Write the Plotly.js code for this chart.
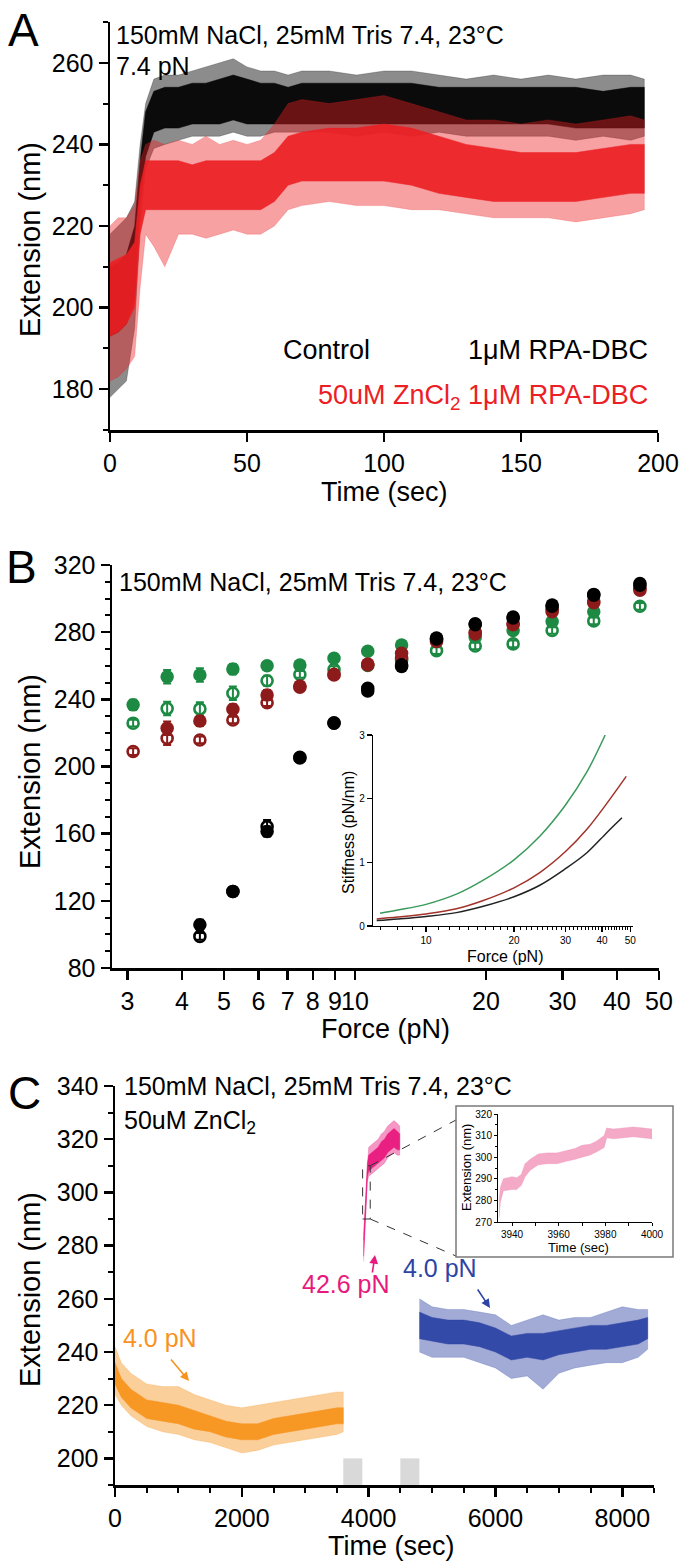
<!DOCTYPE html>
<html>
<head>
<meta charset="utf-8">
<script src="https://cdn.plot.ly/plotly-3.0.1.min.js"></script>
<style>html,body{margin:0;padding:0;background:#fff;}#chart{width:685px;height:1567px;}</style>
</head>
<body>
<div id="chart"></div>
<script>
// ---------------- DATA ----------------
// Panel A: extension vs time at 7.4 pN (envelopes of dense scatter)
const timeA = [0, 3, 6, 9, 11, 13, 16, 20, 25, 30, 35, 40, 45, 50, 55, 60, 65, 70, 80, 90, 100, 110, 120, 130, 140, 150, 160, 170, 180, 190, 195];
const controlOuterHi = [218, 220, 222, 226, 240, 250, 256, 257, 257, 258, 259, 260, 261, 259, 258, 258, 257, 258, 258, 257, 258, 258, 257, 256, 257, 256, 257, 256, 257, 257, 256];
const controlOuterLo = [178, 180, 182, 195, 220, 234, 239, 240, 241, 242, 242, 242, 243, 242, 242, 243, 243, 243, 243, 242, 243, 242, 243, 242, 242, 242, 242, 241, 242, 241, 242];
const controlCoreHi  = [210, 211, 213, 220, 236, 248, 253, 254, 254, 255, 255, 256, 257, 256, 255, 255, 254, 255, 255, 255, 255, 255, 254, 254, 254, 254, 254, 254, 253, 254, 254];
const controlCoreLo  = [193, 194, 196, 202, 225, 237, 243, 244, 244, 245, 245, 245, 246, 245, 245, 245, 245, 245, 245, 245, 245, 245, 245, 245, 245, 245, 245, 244, 244, 244, 244];
const zincOuterHi = [220, 222, 222, 225, 236, 240, 241, 240, 241, 240, 242, 240, 241, 240, 241, 245, 250, 251, 250, 251, 252, 250, 248, 246, 246, 245, 246, 245, 246, 247, 246];
const zincOuterLo = [182, 183, 185, 188, 205, 218, 215, 210, 218, 218, 217, 218, 219, 218, 218, 220, 224, 225, 226, 225, 225, 224, 224, 223, 222, 222, 222, 221, 222, 223, 224];
const zincCoreHi  = [211, 212, 213, 216, 230, 236, 236, 236, 236, 235, 236, 236, 236, 236, 236, 238, 242, 243, 244, 244, 245, 244, 242, 240, 239, 238, 238, 238, 239, 240, 240];
const zincCoreLo  = [193, 194, 196, 200, 218, 224, 224, 224, 224, 224, 224, 224, 224, 224, 224, 226, 230, 231, 231, 231, 231, 230, 228, 227, 226, 226, 226, 226, 227, 228, 228];

// Panel B: extension vs force
const forceB = [3.09, 3.70, 4.40, 5.24, 6.28, 7.47, 8.95, 10.7, 12.8, 15.4, 18.9, 23.1, 28.4, 35.4, 45.2];
const greenFilled = [236.7, 253.5, 254.5, 258, 260, 260.5, 264.5, 268.6, 272.4, 276.3, 277, 281, 286.3, 292.2];
const greenFilledErr = [3, 4, 4, 3, 2, 2, 2, 2, 2, 2, 2, 2, 2, 2];
const greenOpen = [225.8, 234.5, 234.3, 243.6, 251.1, 254.8, 257.7, 260.2, 263.3, 269, 271.8, 273, 281, 286.7, 295.4];
const greenOpenErr = [2, 4, 4, 4, 3, 2, 2, 2, 2, 2, 2, 2, 2, 2, 2];
const redFilled = [222.8, 227.1, 234.1, 242.6, 248, 255, 261, 267.4, 275.5, 280, 285, 293.5, 298.5, 306];
const redFilledErr = [4, 3, 3, 3, 2, 2, 2, 2, 2, 2, 2, 2, 2, 2];
const redOpen = [208.9, 216.8, 215.8, 227.7, 238, 247.2, 254.5, 260.5, 264.5, 274.5, 279, 284.5, 292.2, 297.5, 305];
const redOpenErr = [2, 4, 2, 2, 2, 2, 2, 2, 2, 2, 2, 2, 2, 2, 2];
const blackFilled = [105.7, 125.6, 161.3, 205, 225.8, 245, 259.5, 276.5, 285, 289, 296.2, 302.5, 309];
const blackFilledErr = [3, 2, 3, 2, 2, 2, 2, 2, 2, 2, 2, 2, 2];
const blackOpen = [98.8, 125.6, 164.2, 205.5, 226, 246.5, 260.5, 276, 284.5, 288.5, 295.5, 302, 308];
const blackOpenErr = [2, 2, 4, 2, 2, 2, 2, 2, 2, 2, 2, 2, 2];
const xTicksB = [3, 4, 5, 6, 7, 8, 9, 10, 20, 30, 40, 50];

// Panel B inset: stiffness vs force
const stiffGreenF = [6.96, 8, 10, 12.7, 15.7, 20, 24.5, 30, 35.5, 41];
const stiffGreen  = [0.20, 0.25, 0.34, 0.50, 0.72, 1.04, 1.41, 1.90, 2.42, 3.0];
const stiffRedF = [6.78, 8, 10, 12.7, 15.7, 20, 24.5, 30, 35.5, 41.6, 48.4];
const stiffRed  = [0.11, 0.14, 0.19, 0.27, 0.40, 0.60, 0.84, 1.17, 1.52, 1.93, 2.35];
const stiffBlackF = [6.78, 8, 10, 12.7, 15.7, 20, 24.5, 30, 35.5, 41.6, 46.8];
const stiffBlack  = [0.085, 0.11, 0.15, 0.21, 0.31, 0.46, 0.64, 0.90, 1.15, 1.47, 1.70];
const insetBTicks = [10, 20, 30, 40, 50];
const insetBMinor = [7,8,9,11,12,13,14,15,16,17,18,19,21,22,23,24,25,26,27,28,29,31,32,33,34,35,36,37,38,39,41,42,43,44,45,46,47,48,49];

// Panel C: extension vs time, 50uM ZnCl2
const timeOrange = [0, 100, 250, 500, 750, 1000, 1250, 1500, 1750, 2000, 2250, 2500, 2750, 3000, 3250, 3500, 3600];
const orangeOuterHi = [242, 236, 232, 228, 227, 227, 224, 222, 220, 219, 220, 221, 222, 223, 224, 225, 225];
const orangeOuterLo = [224, 220, 216, 212, 210, 209, 207, 206, 204, 202, 203, 205, 206, 207, 208, 209, 210];
const orangeCoreHi  = [236, 230, 226, 222, 221, 220, 218, 216, 214, 213, 213, 215, 216, 217, 218, 219, 219];
const orangeCoreLo  = [228, 223, 219, 215, 214, 213, 211, 210, 208, 207, 207, 209, 210, 211, 212, 213, 213];
const timePink = [3920, 3935, 3945, 3960, 3980, 4000, 4050, 4100, 4150, 4200, 4250, 4300, 4350, 4400, 4450, 4490];
const pinkOuterHi = [284, 291, 294, 303, 313, 317, 318, 319, 320, 322, 323, 325, 326, 327, 326, 325];
const pinkOuterLo = [274, 279, 285, 295, 304, 306, 307, 308, 309, 310, 311, 313, 314, 315, 314, 314];
const pinkCoreHi  = [282, 289, 292, 301, 311, 314, 315, 316, 317, 319, 320, 322, 323, 324, 323, 322];
const pinkCoreLo  = [276, 281, 287, 297, 306, 308, 309, 310, 311, 312, 313, 315, 316, 317, 316, 316];
const timeBlue = [4800, 5000, 5250, 5500, 5750, 6000, 6250, 6500, 6750, 7000, 7250, 7500, 7750, 8000, 8250, 8400];
const blueOuterHi = [260, 257, 256, 256, 255, 254, 250, 252, 254, 252, 253, 253, 255, 257, 256, 256];
const blueOuterLo = [240, 238, 238, 238, 236, 234, 230, 231, 226, 232, 234, 235, 236, 236, 238, 241];
const blueCoreHi  = [255, 253, 252, 252, 251, 249, 246, 247, 247, 248, 249, 250, 250, 251, 252, 253];
const blueCoreLo  = [245, 244, 243, 243, 242, 240, 237, 238, 237, 239, 240, 241, 241, 242, 243, 245];
const gapStarts = [3600, 4500];
const gapEnds = [3900, 4800];

// Panel C inset: zoom of the 42.6 pN jump
const timeInset = [3934.5, 3935, 3936.3, 3940, 3942, 3944, 3945.6, 3947.8, 3951.3, 3954.9, 3959.2, 3962.8, 3967, 3970, 3973.5, 3976.3, 3979.5, 3980.6, 3983.5, 3987.8, 3992, 3996.3, 4000];
const insetHi = [280, 286, 290, 291, 290.5, 292, 297, 299, 301.5, 302, 302, 303, 304, 305.5, 306, 307.5, 310, 313.5, 313, 313.5, 314, 313.5, 313];
const insetLo = [272, 279, 284.5, 285, 285, 287, 291, 294, 296.5, 297, 297, 298, 299, 300, 301, 302.5, 304.5, 309, 308.5, 309, 309.5, 309, 308.5];

// ---------------- LAYOUT HELPERS ----------------
const W = 685, H = 1567;
const FONT = 'Liberation Sans, Arial, Helvetica, sans-serif';
const PX = x => x / W;
const PY = y => 1 - y / H;
const domX = (a, b) => [a / W, b / W];
const domY = (top, bottom) => [1 - bottom / H, 1 - top / H];

function band(xs, lo, hi, color, xa, ya) {
  return {
    type: 'scatter', x: xs.concat(xs.slice().reverse()), y: hi.concat(lo.slice().reverse()),
    xaxis: xa, yaxis: ya, mode: 'lines', fill: 'toself', fillcolor: color,
    line: {width: 0.5, color: color}, hoverinfo: 'skip', showlegend: false
  };
}
function pts(xs, ys, err, color, open) {
  return {
    type: 'scatter', x: xs, y: ys, xaxis: 'x2', yaxis: 'y2', mode: 'markers', showlegend: false,
    marker: open ? {symbol: 'circle-open', size: 11, color: color, line: {width: 2.6, color: color}}
                 : {symbol: 'circle', size: 13.5, color: color, line: {width: 0}},
    error_y: {type: 'data', array: err, visible: true, color: color, thickness: 2, width: 4}
  };
}

const traces = [];
traces.push(band(timeA, controlOuterLo, controlOuterHi, 'rgba(0,0,0,0.45)', 'x', 'y'));
traces.push(band(timeA, controlCoreLo, controlCoreHi, 'rgba(0,0,0,0.92)', 'x', 'y'));
traces.push(band(timeA, zincOuterLo, zincOuterHi, 'rgba(236,32,36,0.42)', 'x', 'y'));
traces.push(band(timeA, zincCoreLo, zincCoreHi, 'rgba(236,32,36,0.92)', 'x', 'y'));
const GREEN = '#1d8a43', DRED = '#8e1b1b', BLK = '#000000';
traces.push(pts(forceB.slice(0, 14), greenFilled, greenFilledErr, GREEN, false));
traces.push(pts(forceB, greenOpen, greenOpenErr, GREEN, true));
traces.push(pts(forceB.slice(1), redFilled, redFilledErr, DRED, false));
traces.push(pts(forceB, redOpen, redOpenErr, DRED, true));
traces.push(pts(forceB.slice(2), blackFilled, blackFilledErr, BLK, false));
traces.push(pts(forceB.slice(2), blackOpen, blackOpenErr, BLK, true));
traces.push({type: 'scatter', x: stiffGreenF, y: stiffGreen, xaxis: 'x3', yaxis: 'y3', mode: 'lines', line: {color: '#3a9a5c', width: 1.5, shape: 'spline', smoothing: 1}, showlegend: false});
traces.push({type: 'scatter', x: stiffRedF, y: stiffRed, xaxis: 'x3', yaxis: 'y3', mode: 'lines', line: {color: '#a3322b', width: 1.5, shape: 'spline', smoothing: 1}, showlegend: false});
traces.push({type: 'scatter', x: stiffBlackF, y: stiffBlack, xaxis: 'x3', yaxis: 'y3', mode: 'lines', line: {color: '#222222', width: 1.5, shape: 'spline', smoothing: 1}, showlegend: false});
traces.push(band(timeOrange, orangeOuterLo, orangeOuterHi, 'rgba(247,148,30,0.45)', 'x4', 'y4'));
traces.push(band(timeOrange, orangeCoreLo, orangeCoreHi, 'rgba(247,148,30,0.95)', 'x4', 'y4'));
traces.push(band(timePink, pinkOuterLo, pinkOuterHi, 'rgba(232,25,125,0.45)', 'x4', 'y4'));
traces.push(band(timePink, pinkCoreLo, pinkCoreHi, 'rgba(232,25,125,0.95)', 'x4', 'y4'));
traces.push(band(timeBlue, blueOuterLo, blueOuterHi, 'rgba(46,68,165,0.45)', 'x4', 'y4'));
traces.push(band(timeBlue, blueCoreLo, blueCoreHi, 'rgba(46,68,165,0.95)', 'x4', 'y4'));
traces.push(band(timeInset, insetLo, insetHi, 'rgba(240,140,180,0.75)', 'x5', 'y5'));

// ---------------- AXES ----------------
function ax(extra, size, lw, tl) {
  return Object.assign({
    showline: true, linecolor: 'black', linewidth: lw || 2.5, mirror: false,
    ticks: 'outside', ticklen: tl || 9, tickwidth: lw ? Math.max(1, lw) : 2.5, tickcolor: 'black',
    showgrid: false, zeroline: false, fixedrange: true, autorange: false, tickangle: 0,
    tickfont: {family: FONT, size: size || 25, color: 'black'}, title: {text: ''}
  }, extra);
}
const minorMain = (d) => ({dtick: d, tick0: 0, ticklen: 5, tickwidth: 2, tickcolor: 'black', ticks: 'outside', showgrid: false});

const layout = {
  width: W, height: H, margin: {l: 0, r: 0, t: 0, b: 0},
  paper_bgcolor: 'white', plot_bgcolor: 'rgba(0,0,0,0)', showlegend: false,
  font: {family: FONT, color: 'black'},
  xaxis:  ax({domain: domX(110, 658), range: [0, 200], tickmode: 'linear', tick0: 0, dtick: 50, anchor: 'y'}),
  yaxis:  ax({domain: domY(22, 430), range: [170, 270], tickmode: 'linear', tick0: 0, dtick: 20, minor: minorMain(10), anchor: 'x'}),
  xaxis2: ax({domain: domX(112, 659), type: 'log', range: [0.4414, 1.699], tickmode: 'array', tickvals: xTicksB, ticktext: xTicksB.map(String), anchor: 'y2'}),
  yaxis2: ax({domain: domY(565, 968), range: [80, 320], tickmode: 'linear', tick0: 0, dtick: 40, minor: minorMain(10), anchor: 'x2'}),
  xaxis3: ax({domain: domX(373, 633), type: 'log', range: [0.8185, 1.708], tickmode: 'array', tickvals: insetBTicks, ticktext: insetBTicks.map(String),
              minor: {tickmode: 'array', tickvals: insetBMinor, ticklen: 3, tickwidth: 1, tickcolor: 'black', ticks: 'outside'}, anchor: 'y3'}, 10, 1.3, 5),
  yaxis3: ax({domain: domY(735, 926), range: [0, 3], tickmode: 'linear', tick0: 0, dtick: 1, anchor: 'x3'}, 10, 1.3, 5),
  xaxis4: ax({domain: domX(115, 654), range: [0, 8500], tickmode: 'linear', tick0: 0, dtick: 2000, minor: minorMain(500), anchor: 'y4'}),
  yaxis4: ax({domain: domY(1086, 1485), range: [190, 340], tickmode: 'linear', tick0: 0, dtick: 20, minor: minorMain(10), anchor: 'x4'}),
  xaxis5: ax({domain: domX(498, 652), range: [3934, 4000], tickmode: 'linear', tick0: 0, dtick: 20,
              minor: {dtick: 10, tick0: 0, ticklen: 2.5, tickwidth: 1, ticks: 'outside', tickcolor: 'black'}, anchor: 'y5'}, 10, 1, 3),
  yaxis5: ax({domain: domY(1114, 1222), range: [270, 320], tickmode: 'linear', tick0: 0, dtick: 10,
              minor: {dtick: 5, tick0: 0, ticklen: 2.5, tickwidth: 1, ticks: 'outside', tickcolor: 'black'}, anchor: 'x5'}, 10, 1, 3),
  shapes: [], annotations: []
};

for (let i = 0; i < gapStarts.length; i++) {
  layout.shapes.push({type: 'rect', xref: 'x4', yref: 'y4', x0: gapStarts[i], x1: gapEnds[i], y0: 190, y1: 200, fillcolor: '#d9d9d9', line: {width: 0}, layer: 'below'});
}
const zoomBox = {t0: 3905, t1: 4025, y0: 290, y1: 310};
layout.shapes.push({type: 'rect', xref: 'x4', yref: 'y4', x0: zoomBox.t0, x1: zoomBox.t1, y0: zoomBox.y0, y1: zoomBox.y1, line: {color: '#333', width: 1, dash: 'dash'}});
const cX = t => 115 + t / 8500 * (654 - 115);
const cY = v => 1485 - (v - 190) / 150 * (1485 - 1086);
layout.shapes.push({type: 'line', xref: 'paper', yref: 'paper', x0: PX(cX(zoomBox.t1)), y0: PY(cY(zoomBox.y1)), x1: PX(456), y1: PY(1120), line: {color: '#333', width: 1, dash: 'dash'}});
layout.shapes.push({type: 'line', xref: 'paper', yref: 'paper', x0: PX(cX(zoomBox.t1)), y0: PY(cY(zoomBox.y0)), x1: PX(456), y1: PY(1256), line: {color: '#333', width: 1, dash: 'dash'}});
layout.shapes.push({type: 'rect', xref: 'paper', yref: 'paper', x0: PX(456), x1: PX(673), y0: PY(1257), y1: PY(1106), line: {color: '#7a7a7a', width: 1.5}, fillcolor: 'rgba(0,0,0,0)'});

// ---------------- TEXT ----------------
function txt(s, x, y, size, opts) {
  layout.annotations.push(Object.assign({text: s, xref: 'paper', yref: 'paper', x: PX(x), y: PY(y), showarrow: false,
    xanchor: 'left', yanchor: 'middle', font: {family: FONT, size: size, color: 'black'}}, opts || {}));
}
function arrow(hx, hy, ax_, ay_, color) {
  layout.annotations.push({text: ' ', font: {size: 2}, xref: 'paper', yref: 'paper', x: PX(hx), y: PY(hy), ax: ax_, ay: ay_, showarrow: true,
    arrowhead: 2, arrowsize: 1.1, arrowwidth: 1.6, arrowcolor: color, standoff: 0, startstandoff: 0});
}
txt('A', 6, 30, 46);
txt('B', 4, 567, 46);
txt('C', 6, 1093, 46);
txt('150mM NaCl, 25mM Tris 7.4, 23°C', 114, 35, 25);
txt('7.4 pN', 114, 66, 25);
txt('Control', 281, 350, 27);
txt('1μM RPA-DBC', 650, 350, 27, {xanchor: 'right'});
txt('50uM ZnCl<sub>2</sub> 1μM RPA-DBC', 650, 397, 27, {xanchor: 'right', font: {family: FONT, size: 27, color: '#ec2024'}});
txt('Extension (nm)', 30, 240, 29, {xanchor: 'center', textangle: -90});
txt('Time (sec)', 384, 492, 27, {xanchor: 'center'});
txt('150mM NaCl, 25mM Tris 7.4, 23°C', 117, 582, 25);
txt('Extension (nm)', 30, 772, 29, {xanchor: 'center', textangle: -90});
txt('Force (pN)', 385, 1029, 27, {xanchor: 'center'});
txt('Stiffness (pN/nm)', 348, 832, 16, {xanchor: 'center', textangle: -90});
txt('Force (pN)', 505, 956, 16, {xanchor: 'center'});
txt('150mM NaCl, 25mM Tris 7.4, 23°C', 122, 1086, 25);
txt('50uM ZnCl<sub>2</sub>', 122, 1122, 25);
txt('Extension (nm)', 30, 1290, 29, {xanchor: 'center', textangle: -90});
txt('Time (sec)', 392, 1546, 27, {xanchor: 'center'});
txt('Extension (nm)', 466, 1168, 13, {xanchor: 'center', textangle: -90});
txt('Time (sec)', 578, 1247, 13, {xanchor: 'center'});
txt('42.6 pN', 346, 1284, 25, {xanchor: 'center', font: {family: FONT, size: 25, color: '#e8197d'}});
txt('4.0 pN', 440, 1268, 25, {xanchor: 'center', font: {family: FONT, size: 25, color: '#2e44a5'}});
txt('4.0 pN', 160, 1338, 25, {xanchor: 'center', font: {family: FONT, size: 25, color: '#f7931e'}});
arrow(375, 1255, -3, 20, '#e8197d');
arrow(490, 1308, -14, -21, '#2e44a5');
arrow(189, 1381, -20, -24, '#f7931e');

Plotly.newPlot('chart', traces, layout, {staticPlot: true, displayModeBar: false});
</script>
</body>
</html>
